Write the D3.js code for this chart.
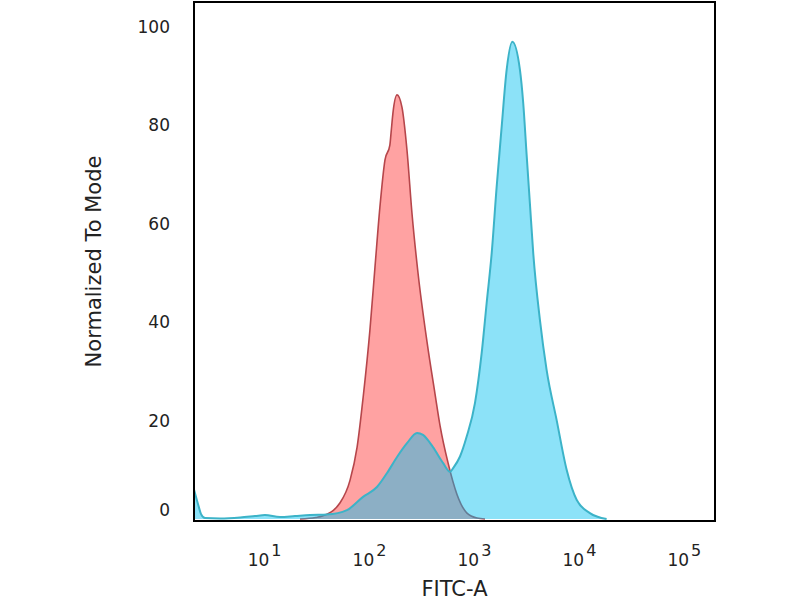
<!DOCTYPE html>
<html>
	<head>
		<script src="https://d3js.org/d3.v7.min.js"></script>
		<style type="text/css">
			body {
				margin: 0;
				background: #fff;
			}

			svg {
				font-family: "DejaVu Sans", sans-serif;
			}

			.axis text {
				font-family: "DejaVu Sans", sans-serif;
				font-size: 17px;
				fill: #222;
			}

			.title {
				font-size: 21px;
				fill: #222;
			}

			.control path.area {
				fill: #ffa2a2;
				stroke: none;
			}

			.control path.line {
				fill: none;
				stroke: #b6464b;
				stroke-width: 1.6;
			}

			.stained path.area {
				fill: #00bef0;
				fill-opacity: 0.45;
				stroke: none;
			}

			.stained path.line {
				fill: none;
				stroke: #3cb3c8;
				stroke-width: 2;
			}

			.frame {
				fill: none;
				stroke: #000;
				stroke-width: 2;
			}
		</style>
	</head>
	<body>
		<script type="text/javascript">
			// isotype control (red) - FITC-A intensity and % of mode
			var controlX = [22, 31, 36, 53, 66, 77, 88, 102, 114, 127, 142, 158, 163, 169, 185, 206, 230, 257, 293, 357, 425, 475, 565, 689, 858, 1069, 1274];
			var controlY = [0, 0.3, 0.6, 3.3, 7.9, 14.6, 24.8, 38.4, 51.2, 63.4, 73, 76, 79, 82.5, 86.2, 83.7, 75, 62, 50, 36, 25.5, 19, 11.5, 5, 1.2, 0.2, 0];

			// stained sample (blue)
			var stainedX = [2.15, 2.35, 2.51, 2.74, 3.81, 5.91, 8.2, 10.2, 14.2, 19.7, 27.4, 39.8, 61.6, 87.7, 119, 148, 185, 230, 287, 327, 407, 507, 591, 636, 736, 851, 1023, 1184, 1321, 1475, 1645, 1836, 2048, 2320, 2742, 2948, 3176, 3415, 3672, 4253, 4922, 6135, 7640, 9510, 12730, 18360];
			var stainedY = [6, 3, 1, 0.2, 0.1, 0.3, 0.6, 0.8, 0.4, 0.6, 0.8, 0.9, 1.8, 4.5, 6.5, 9.3, 12.6, 15.4, 17.5, 17.1, 14.6, 11.4, 9.6, 10.4, 12.7, 16.7, 23.6, 33.7, 43.9, 54, 67.5, 79.7, 91.3, 97, 91.3, 84.5, 74, 64, 54, 40.4, 30.3, 20.1, 10, 3.9, 1.2, 0];

			var xTicks = [1e1, 1e2, 1e3, 1e4, 1e5];
			var yTicks = [0, 20, 40, 60, 80, 100];

			var width = 800, height = 600;
			var padding = {
				top: 2,
				right: 85,
				bottom: 79,
				left: 194
			};

			var x = d3.scaleLog()
				.domain([2.15, 1.98e5])
				.range([padding.left, width - padding.right]);
			var y = d3.scaleLinear()
				.domain([0, 100])
				.range([519, 27]);

			var svg = d3.select("body").append("svg")
				.attr("width", width)
				.attr("height", height);

			svg.append("clipPath")
				.attr("id", "plot-clip")
			.append("rect")
				.attr("x", padding.left)
				.attr("y", padding.top)
				.attr("width", width - padding.left - padding.right)
				.attr("height", height - padding.top - padding.bottom);

			function toPoints(xs, ys) {
				return xs.map(function (v, i) { return [v, ys[i]]; });
			}

			var area = d3.area()
				.curve(d3.curveMonotoneX)
				.x(function (d) { return x(d[0]); })
				.y0(y(0))
				.y1(function (d) { return y(d[1]); });

			var line = d3.line()
				.curve(d3.curveMonotoneX)
				.x(function (d) { return x(d[0]); })
				.y(function (d) { return y(d[1]); });

			var series = [
				{ name: "control", points: toPoints(controlX, controlY) },
				{ name: "stained", points: toPoints(stainedX, stainedY) }
			];

			var g = svg.selectAll(".series")
				.data(series)
				.enter().append("g")
				.attr("class", function (d) { return d.name; })
				.attr("clip-path", "url(#plot-clip)");

			g.append("path")
				.attr("class", "area")
				.attr("d", function (d) { return area(d.points); });

			g.append("path")
				.attr("class", "line")
				.attr("d", function (d) { return line(d.points); });

			// frame
			svg.append("rect")
				.attr("class", "frame")
				.attr("x", padding.left)
				.attr("y", padding.top)
				.attr("width", width - padding.left - padding.right)
				.attr("height", height - padding.top - padding.bottom);

			// x axis, labels as 10^n
			var xAxis = svg.append("g")
				.attr("class", "axis")
				.attr("transform", "translate(0," + (height - padding.bottom) + ")")
				.call(d3.axisBottom(x).tickValues(xTicks).tickSize(0).tickFormat(""));
			xAxis.select(".domain").remove();
			xAxis.selectAll(".tick text")
				.attr("y", 45)
				.attr("dy", 0)
				.each(function (d) {
					var t = d3.select(this);
					t.append("tspan").text("10");
					t.append("tspan")
						.attr("dy", -10)
						.attr("dx", 2)
						.style("font-size", "16px")
						.text(Math.round(Math.log10(d)));
				});

			// y axis
			var yAxis = svg.append("g")
				.attr("class", "axis")
				.attr("transform", "translate(" + padding.left + ",0)")
				.call(d3.axisLeft(y).tickValues(yTicks).tickSize(0).tickPadding(24));
			yAxis.select(".domain").remove();
			yAxis.selectAll(".tick text")
				.filter(function (d) { return d === 0; })
				.attr("y", -9);

			svg.append("text")
				.attr("class", "title")
				.attr("text-anchor", "middle")
				.attr("transform", "translate(101," + ((padding.top + height - padding.bottom) / 2) + ") rotate(-90)")
				.text("Normalized To Mode");

			svg.append("text")
				.attr("class", "title")
				.attr("text-anchor", "middle")
				.attr("x", (padding.left + width - padding.right) / 2)
				.attr("y", 596)
				.text("FITC-A");
		</script>
	</body>
</html>
